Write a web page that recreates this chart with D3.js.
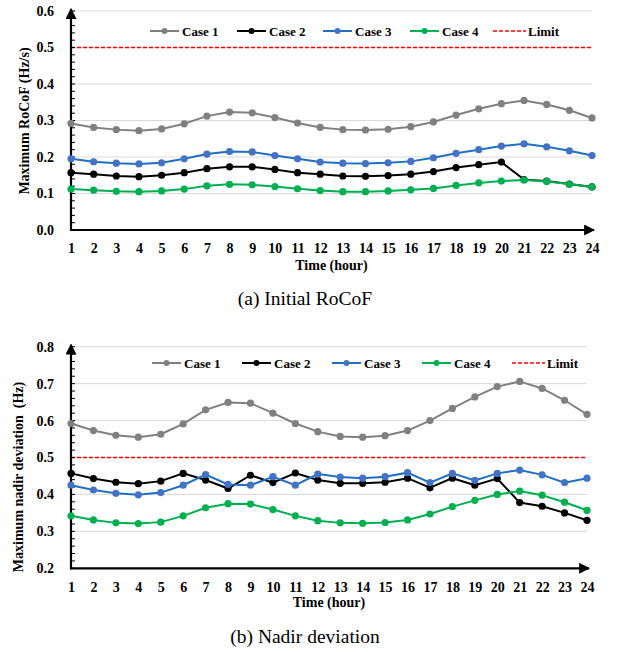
<!DOCTYPE html>
<meta charset="utf-8">
<style>
body { margin: 0; background: #fff; }
svg text { font-family: "Liberation Serif", "Times New Roman", "DejaVu Serif", serif !important; }
.tick text { font-size: 14px; font-weight: bold; fill: #000; }
.grid line { stroke: #d9d9d9; stroke-width: 1; }
</style>
<body>
<script src="https://cdn.jsdelivr.net/npm/d3@7"></script>
<script>

var hours = d3.range(1, 25);
var caseNames = ["Case 1", "Case 2", "Case 3", "Case 4"];

// (a) Initial RoCoF, Hz/s
var rocof1 = [0.292,0.281,0.275,0.272,0.277,0.291,0.312,0.323,0.321,0.308,0.293,0.281,0.275,0.274,0.276,0.283,0.296,0.315,0.332,0.346,0.355,0.344,0.328,0.307];
var rocof2 = [0.157,0.153,0.148,0.146,0.150,0.157,0.168,0.173,0.173,0.166,0.157,0.153,0.148,0.147,0.149,0.153,0.160,0.171,0.179,0.186,0.138,0.134,0.126,0.118];
var rocof3 = [0.195,0.187,0.183,0.181,0.184,0.195,0.208,0.215,0.214,0.204,0.195,0.186,0.183,0.182,0.184,0.188,0.198,0.210,0.220,0.230,0.236,0.228,0.217,0.204];
var rocof4 = [0.112,0.109,0.106,0.105,0.107,0.112,0.121,0.125,0.124,0.119,0.113,0.108,0.105,0.105,0.107,0.110,0.114,0.122,0.129,0.134,0.137,0.133,0.126,0.118];
var rocofLimit = 0.5;
var rocofTicks = [0.0, 0.1, 0.2, 0.3, 0.4, 0.5, 0.6];

// (b) Nadir deviation, Hz
var nadir1 = [0.592,0.573,0.560,0.555,0.563,0.591,0.629,0.649,0.647,0.620,0.592,0.570,0.557,0.555,0.559,0.573,0.600,0.633,0.664,0.692,0.706,0.687,0.655,0.617];
var nadir2 = [0.457,0.443,0.433,0.429,0.436,0.457,0.439,0.416,0.452,0.432,0.458,0.439,0.430,0.430,0.433,0.444,0.418,0.444,0.425,0.443,0.378,0.368,0.350,0.330];
var nadir3 = [0.425,0.412,0.403,0.399,0.405,0.425,0.454,0.427,0.425,0.448,0.425,0.455,0.447,0.444,0.448,0.459,0.432,0.457,0.438,0.457,0.466,0.453,0.432,0.444];
var nadir4 = [0.342,0.331,0.323,0.321,0.325,0.342,0.364,0.375,0.374,0.359,0.342,0.329,0.323,0.322,0.324,0.331,0.347,0.367,0.384,0.400,0.409,0.398,0.379,0.357];
var nadirLimit = 0.5;
var nadirTicks = [0.2, 0.3, 0.4, 0.5, 0.6, 0.7, 0.8];

var lineColors = ["#808080", "#000000", "#1f6fc5", "#00b050"];
var dotColors = ["#808080", "#000000", "#4472c4", "#00b050"];

var svg = d3.select("body").append("svg")
  .attr("width", 620)
  .attr("height", 652)
  .attr("font-family", "Liberation Serif, serif");

var defs = svg.append("defs");
defs.append("marker")
  .attr("id", "arrow")
  .attr("viewBox", "0 0 10 10")
  .attr("refX", 9).attr("refY", 5)
  .attr("markerWidth", 5).attr("markerHeight", 5)
  .attr("markerUnits", "strokeWidth")
  .attr("orient", "auto")
  .append("path")
  .attr("d", "M0,0 L10,5 L0,10 z")
  .attr("fill", "#000");

function drawChart(opt) {
  var x = d3.scaleLinear().domain([1, 24]).range([opt.left, opt.right]);
  var y = d3.scaleLinear().domain([opt.ticks[0], opt.ticks[opt.ticks.length - 1]]).range([opt.bottom, opt.top]);
  var g = svg.append("g");

  // gridlines
  g.append("g").attr("class", "grid")
    .selectAll("line")
    .data(opt.ticks.slice(1))
    .enter().append("line")
    .attr("x1", opt.left).attr("x2", opt.right)
    .attr("y1", function(d) { return y(d); })
    .attr("y2", function(d) { return y(d); });

  // limit line
  g.append("line")
    .attr("x1", opt.left).attr("x2", opt.right)
    .attr("y1", y(opt.limit)).attr("y2", y(opt.limit))
    .attr("stroke", "#ff0000")
    .attr("stroke-width", 1.6)
    .attr("stroke-dasharray", "4,2");

  // minor ticks on the inside of the y axis
  var minor = d3.range(opt.ticks[0], opt.ticks[opt.ticks.length - 1] + 1e-9, 0.02);
  g.append("g")
    .selectAll("line")
    .data(minor)
    .enter().append("line")
    .attr("x1", opt.left).attr("x2", opt.left + 4)
    .attr("y1", function(d) { return y(d); })
    .attr("y2", function(d) { return y(d); })
    .attr("stroke", "#000")
    .attr("stroke-width", 1);

  // y tick labels
  var yAxis = d3.axisLeft(y).tickValues(opt.ticks).tickFormat(d3.format(".1f")).tickSize(0).tickPadding(17);
  g.append("g")
    .attr("transform", "translate(" + opt.left + ",0)")
    .call(yAxis)
    .call(function(s) { s.select(".domain").remove(); });

  // x tick labels
  var xAxis = d3.axisBottom(x).tickValues(hours).tickFormat(d3.format("d")).tickSize(0).tickPadding(opt.xPad);
  g.append("g")
    .attr("transform", "translate(0," + opt.bottom + ")")
    .call(xAxis)
    .call(function(s) { s.select(".domain").remove(); });

  // axes with arrows
  g.append("line")
    .attr("x1", opt.left).attr("x2", opt.left)
    .attr("y1", opt.bottom + 1).attr("y2", opt.top - 2)
    .attr("stroke", "#000").attr("stroke-width", 2.2)
    .attr("marker-end", "url(#arrow)");
  g.append("line")
    .attr("x1", opt.left - 1).attr("x2", opt.right + 2)
    .attr("y1", opt.bottom).attr("y2", opt.bottom)
    .attr("stroke", "#000").attr("stroke-width", 2.2)
    .attr("marker-end", "url(#arrow)");

  // series
  var line = d3.line()
    .x(function(d, i) { return x(hours[i]); })
    .y(function(d) { return y(d); });

  opt.series.forEach(function(vals, k) {
    g.append("path")
      .datum(vals)
      .attr("d", line)
      .attr("fill", "none")
      .attr("stroke", lineColors[k])
      .attr("stroke-width", 2);
    g.append("g")
      .selectAll("circle")
      .data(vals)
      .enter().append("circle")
      .attr("cx", function(d, i) { return x(hours[i]); })
      .attr("cy", function(d) { return y(d); })
      .attr("r", 3.6)
      .attr("fill", dotColors[k]);
  });

  // legend
  var lg = g.append("g");
  opt.legendX.forEach(function(lx, k) {
    var item = lg.append("g").attr("transform", "translate(" + lx + "," + opt.legendY + ")");
    if (k < 4) {
      item.append("line").attr("x1", 0).attr("x2", 29).attr("stroke", lineColors[k]).attr("stroke-width", 2);
      item.append("circle").attr("cx", 14.5).attr("r", 3).attr("fill", dotColors[k]);
    } else {
      item.append("line").attr("x1", 0).attr("x2", 33).attr("stroke", "#ff0000")
        .attr("stroke-width", 1.6).attr("stroke-dasharray", "4,2");
    }
    item.append("text")
      .attr("x", k < 4 ? 32 : 35)
      .attr("dy", "0.35em")
      .attr("font-size", 13)
      .attr("font-weight", "bold")
      .text(k < 4 ? caseNames[k] : "Limit");
  });

  // axis titles
  g.append("text")
    .attr("x", (opt.left + opt.right) / 2)
    .attr("y", opt.xTitleY)
    .attr("text-anchor", "middle")
    .attr("font-size", 14)
    .attr("font-weight", "bold")
    .text("Time (hour)");

  g.append("text")
    .attr("transform", "translate(" + opt.yTitleX + "," + opt.yTitleCY + ") rotate(-90)")
    .attr("text-anchor", "middle")
    .attr("font-size", 14)
    .attr("font-weight", "bold")
    .attr("xml:space", "preserve")
    .text(opt.yTitle);

  // caption
  g.append("text")
    .attr("x", 305)
    .attr("y", opt.captionY)
    .attr("text-anchor", "middle")
    .attr("font-size", 19.5)
    .text(opt.caption);
}

drawChart({
  left: 71, right: 592, top: 11, bottom: 230,
  ticks: rocofTicks, limit: rocofLimit,
  series: [rocof1, rocof2, rocof3, rocof4],
  legendX: [150, 237, 323, 410, 493], legendY: 31,
  xPad: 13, xTitleY: 270,
  yTitle: "Maximum RoCoF (Hz/s)", yTitleX: 29, yTitleCY: 121,
  caption: "(a) Initial RoCoF", captionY: 305
});

drawChart({
  left: 71, right: 587, top: 346.7, bottom: 568.3,
  ticks: nadirTicks, limit: nadirLimit,
  series: [nadir1, nadir2, nadir3, nadir4],
  legendX: [152, 242, 332, 422, 512], legendY: 363,
  xPad: 14, xTitleY: 607,
  yTitle: "Maximum nadir deviation  (Hz)", yTitleX: 23, yTitleCY: 477,
  caption: "(b) Nadir deviation", captionY: 643
});

</script>
</body>
